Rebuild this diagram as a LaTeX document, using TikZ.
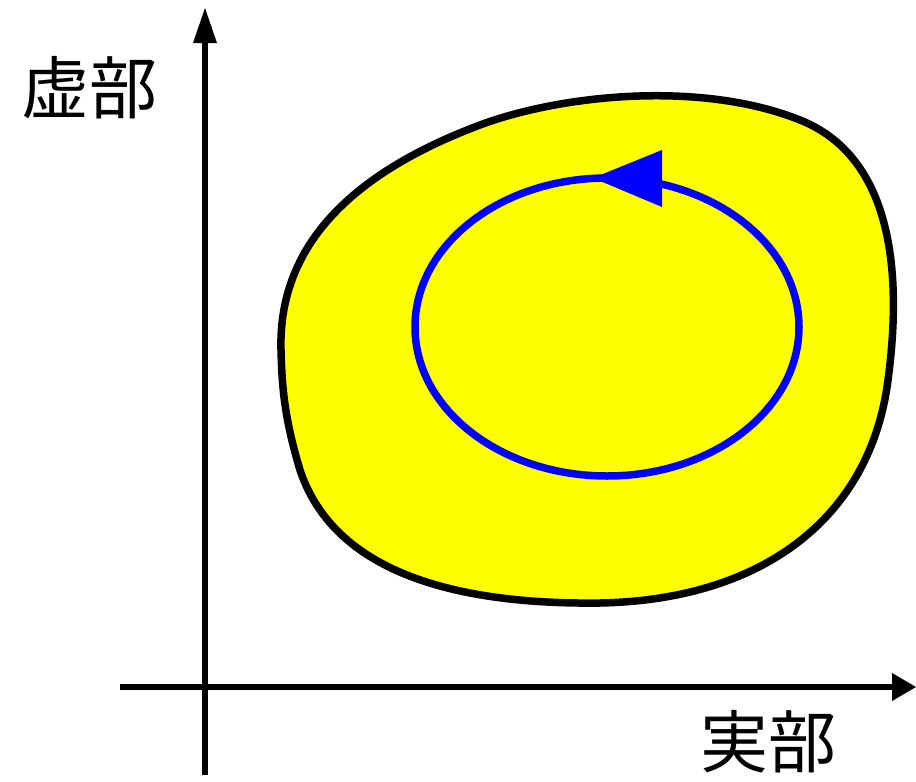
\documentclass[tikz,border=0pt]{standalone}
\usepackage{fontspec}
\usetikzlibrary{shapes.geometric}
\newfontfamily\cjk{Noto Sans CJK JP}
\definecolor{blobyellow}{RGB}{255,255,0}
\definecolor{loopblue}{RGB}{0,0,255}
\begin{document}
\begin{tikzpicture}[x=1pt,y=-1pt,
  axis/.style={line width=5.5pt},
  blob/.style={draw=black,fill=blobyellow,line width=7.5pt},
  loopline/.style={draw=loopblue,line width=7.5pt},
  lbl/.style={font=\cjk\fontsize{68}{68}\selectfont,inner sep=0pt}]
\useasboundingbox (0,0) rectangle (916,782);
% blob
\draw[blob] (281,350) .. controls (278,240) and (360,170) .. (480,125)
  .. controls (560,95) and (700,80) .. (800,120)
  .. controls (900,160) and (900,290) .. (888,380)
  .. controls (870,520) and (760,600) .. (600,603)
  .. controls (430,605) and (330,560) .. (300,470)
  .. controls (285,420) and (282,390) .. (281,350) -- cycle;
% blue loop
\node[loopline,ellipse,minimum width=384,minimum height=298,inner sep=0pt,outer sep=0pt] (loop) at (607,327) {};
\coordinate (tip) at (593,178);
\coordinate (b1) at (662,150);
\coordinate (b2) at (662,207);
\fill[loopblue] (tip) -- (b1) -- (b2) -- cycle;
% axes
\coordinate (vb) at (205,775);
\coordinate (vt) at (205,8);
\coordinate (hl) at (120,687);
\coordinate (hr) at (916,687);
\draw[axis] (vb) -- (205,40);
\fill (vt) -- (217,43) -- (193,43) -- cycle;
\draw[axis] (hl) -- (894,687);
\fill (hr) -- (892,673) -- (892,701) -- cycle;
% labels
\node[lbl] (im) at (89,88) {虚部};
\node[lbl] (re) at (768,742) {実部};
\end{tikzpicture}
\end{document}
